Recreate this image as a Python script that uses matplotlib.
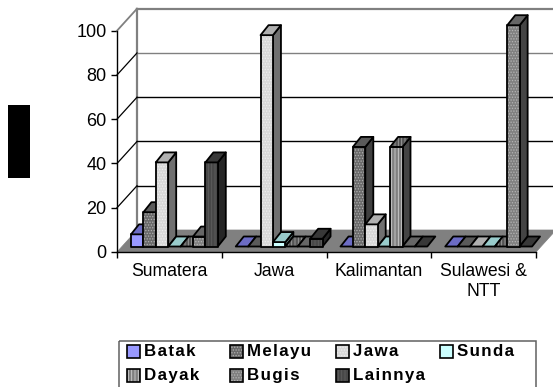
import matplotlib
matplotlib.use("Agg")
import matplotlib.pyplot as plt
from matplotlib.patches import Polygon, Rectangle

plt.rcParams["font.family"] = ["Liberation Sans", "DejaVu Sans"]
plt.rcParams["hatch.linewidth"] = 0.6

categories = ["Sumatera", "Jawa", "Kalimantan", "Sulawesi &\nNTT"]
series_names = ["Batak", "Melayu", "Jawa", "Sunda", "Dayak", "Bugis", "Lainnya"]
batak = [5.5, 0, 0, 0]
melayu = [15.5, 0, 45, 0]
jawa = [38, 95.5, 10, 0]
sunda = [0, 2, 0, 0]
dayak = [0, 0, 45, 0]
bugis = [4.5, 0, 0, 100]
lainnya = [38, 3.5, 0, 0]
y_ticks = [0, 20, 40, 60, 80, 100]

fronts = ["#9999ff", "#6a6a6a", "#d8d8d8", "#ccffff", "#808080", "#808080", "#484848"]
tops = ["#6c6cc4", "#5a5a5a", "#b0b0b0", "#99cccc", "#555555", "#666666", "#383838"]
sides = ["#4d4d80", "#404040", "#707070", "#668080", "#444444", "#444444", "#262626"]
hatches = [None, "......", "......", None, "|||||", "......", "|||||"]
hatch_cols = [None, "#b0b0b0", "#eeeeee", None, "#d0d0d0", "#b4b4b4", "#5e5e5e"]

W, H = 553, 387
LEFT, RIGHT, BOTTOM, TOP = 117, 536, 252, 30.7
PX_X = (RIGHT - LEFT) / len(categories)
PX_Y = (BOTTOM - TOP) / 100


def dx(px):
    return px / PX_X


def dy(px):
    return px / PX_Y


def draw_face(ax, pts, color, hatch=None, hatch_col=None):
    ax.add_patch(Polygon(pts, closed=True, facecolor=color, edgecolor=hatch_col or color,
                         hatch=hatch, lw=0, clip_on=False, zorder=5))
    ax.add_patch(Polygon(pts, closed=True, fill=False, edgecolor="black", lw=1.3,
                         joinstyle="round", clip_on=False, zorder=5))


def draw_bar(ax, x0, width, value, i):
    # oblique box: front face, then the right side and the top
    ox, oy = dx(5), dy(5.5)
    bx, by = dx(8), dy(10)
    left, right = x0 + ox, x0 + width + ox
    low, high = oy, oy + value
    if value > 0:
        draw_face(ax, [(right, low), (right + bx, low + by), (right + bx, high + by), (right, high)], sides[i])
        draw_face(ax, [(left, low), (right, low), (right, high), (left, high)], fronts[i], hatches[i], hatch_cols[i])
    top_hatch = "|||||" if i == 4 else None
    draw_face(ax, [(left, high), (right, high), (right + bx, high + by), (left + bx, high + by)], tops[i],
              top_hatch, "#a0a0a0" if i == 4 else None)


fig = plt.figure(figsize=(W / 100, H / 100), dpi=100, facecolor="white")
ax = fig.add_axes([LEFT / W, 1 - BOTTOM / H, (RIGHT - LEFT) / W, (BOTTOM - TOP) / H])
ax.set_xlim(0, len(categories))
ax.set_ylim(0, 100)
ax.patch.set_visible(False)
for name in ["top", "right"]:
    ax.spines[name].set_visible(False)
for name in ["left", "bottom"]:
    ax.spines[name].set_linewidth(1.0)

# back wall and floor
wx, wy = dx(20), dy(22)
xr = len(categories)
ax.add_patch(Polygon([(0, 0), (xr, 0), (xr + wx, wy), (wx, wy)], closed=True,
                     facecolor="#808080", edgecolor="#808080", lw=0.5, clip_on=False, zorder=1))
ax.plot([wx, wx], [wy, 100 + wy], color="#808080", lw=1.6, clip_on=False, zorder=2)
for v in y_ticks[1:]:
    grey = v >= 80
    col = "#808080" if grey else "black"
    ax.plot([wx, xr + wx], [v + wy, v + wy], color=col, lw=1.6 if v == 100 else 1.0, clip_on=False, zorder=2)
    ax.plot([0, wx], [v, v + wy], color="#808080" if v == 100 else "black", lw=1.3 if v == 100 else 0.9,
            clip_on=False, zorder=2)

values = [batak, melayu, jawa, sunda, dayak, bugis, lainnya]
slot = dx(12.4)
pad = dx(9)
for c in range(len(categories)):
    for i, vals in enumerate(values):
        draw_bar(ax, c + pad + i * slot, slot, vals[c], i)

ax.set_yticks(y_ticks)
ax.set_yticklabels([str(v) for v in y_ticks], fontsize=13)
ax.set_xticks(range(len(categories) + 1))
ax.set_xticklabels([])
ax.set_xticks([c + 0.5 for c in range(len(categories))], minor=True)
ax.set_xticklabels(categories, minor=True, fontsize=12.7, linespacing=1.2)
ax.tick_params(axis="y", length=4.5, width=1, pad=3)
ax.tick_params(axis="x", which="major", length=4.5, width=1)
ax.tick_params(axis="x", which="minor", length=0, pad=8)

# overlay in pixel units for the legend box and the black block
over = fig.add_axes([0, 0, 1, 1], facecolor="none")
over.set_xlim(0, W)
over.set_ylim(H, 0)
over.axis("off")
over.add_patch(Rectangle((8, 105), 22, 73, facecolor="black", edgecolor="none"))
over.add_patch(Rectangle((119, 340.5), 417, 50, fill=False, edgecolor="#606060", lw=1.1))

col_x = [127, 230, 336, 440]
row_y = [351.5, 375.5]
for i, name in enumerate(series_names):
    x = col_x[i % 4]
    y = row_y[i // 4]
    over.add_patch(Rectangle((x, y - 6.5), 13, 13, facecolor=fronts[i], edgecolor=hatch_cols[i] or fronts[i],
                             hatch=hatches[i], lw=0))
    over.add_patch(Rectangle((x, y - 6.5), 13, 13, fill=False, edgecolor="black", lw=1.2))
    over.text(x + 17, y, "\u200a".join(name), fontsize=12.2, fontweight="bold",
              ha="left", va="center", color="black")

fig.savefig("out.png", dpi=100)
